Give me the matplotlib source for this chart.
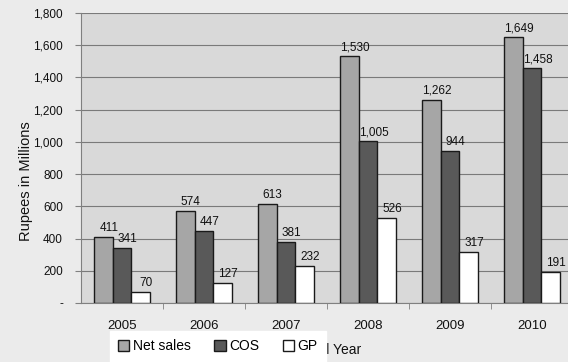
import numpy as np
import matplotlib.pyplot as plt
from matplotlib.ticker import FuncFormatter, FixedLocator

plt.rcParams['font.family'] = ['Liberation Sans', 'DejaVu Sans']

# Net sales, cost of sales and gross profit per fiscal year
years = ["2005", "2006", "2007", "2008", "2009", "2010"]
net_sales = [411, 574, 613, 1530, 1262, 1649]
cos = [341, 447, 381, 1005, 944, 1458]
gp = [70, 127, 232, 526, 317, 191]
series_names = ["Net sales", "COS", "GP"]

fig = plt.figure(figsize=(5.68, 3.62), dpi=100, facecolor="#ebebeb")
ax = fig.add_axes([81 / 568, 59 / 362, 492 / 568, 290 / 362])
ax.set_facecolor("#d9d9d9")

x = np.arange(len(years))
w = 0.23
colors = ["#a6a6a6", "#595959", "#ffffff"]
handles = []
for i, (vals, col) in enumerate(zip([net_sales, cos, gp], colors)):
    pos = x + (i - 1) * w
    b = ax.bar(pos, vals, width=w, color=col, edgecolor="#1a1a1a",
               linewidth=1.0, zorder=3, label=series_names[i])
    handles.append(b)
    for px, v in zip(pos, vals):
        ax.annotate(f"{v:,}", (px, v), xytext=(4, 2), textcoords="offset points",
                    ha="center", va="bottom", fontsize=8.5, color="#111111", zorder=4)

ax.set_xlim(-0.5, len(years) - 0.5)
ax.set_ylim(0, 1800)
ax.set_yticks(range(0, 1801, 200))
ax.yaxis.set_major_formatter(FuncFormatter(lambda v, p: "-" if v == 0 else f"{int(v):,}"))
ax.grid(axis="y", color="#7a7a7a", linewidth=0.8, zorder=0)
ax.set_axisbelow(True)

ax.set_xticks(x)
ax.set_xticklabels(years)
ax.xaxis.set_minor_locator(FixedLocator(x[:-1] + 0.5))
ax.tick_params(axis="x", which="major", length=0, pad=12, labelsize=9.5, colors="#111111")
ax.tick_params(axis="x", which="minor", length=4, color="#808080")
ax.tick_params(axis="y", length=4, color="#808080", labelsize=8.5, pad=9, colors="#111111")

for s in ["top", "right"]:
    ax.spines[s].set_visible(False)
ax.spines["left"].set_color("#808080")
ax.spines["bottom"].set_color("#808080")

ax.set_ylabel("Rupees in Millions", fontsize=10.5, color="#111111")
ax.yaxis.set_label_coords(-0.097, 0.42)
ax.set_xlabel("Fiscal Year", fontsize=10, labelpad=8, color="#111111")

# legend box sits over the start of the axis title
leg = fig.legend(handles=handles, labels=series_names, ncol=3, loc="upper left",
                 bbox_to_anchor=(110 / 568, 1 - 331 / 362), frameon=True, fancybox=False,
                 framealpha=1, fontsize=10, handlelength=0.8, handleheight=0.8,
                 handletextpad=0.25, columnspacing=1.7, borderpad=0.6, borderaxespad=0)
leg.get_frame().set_facecolor("white")
leg.get_frame().set_edgecolor("white")
leg.set_zorder(10)

fig.savefig("out.png", dpi=100, facecolor=fig.get_facecolor())
